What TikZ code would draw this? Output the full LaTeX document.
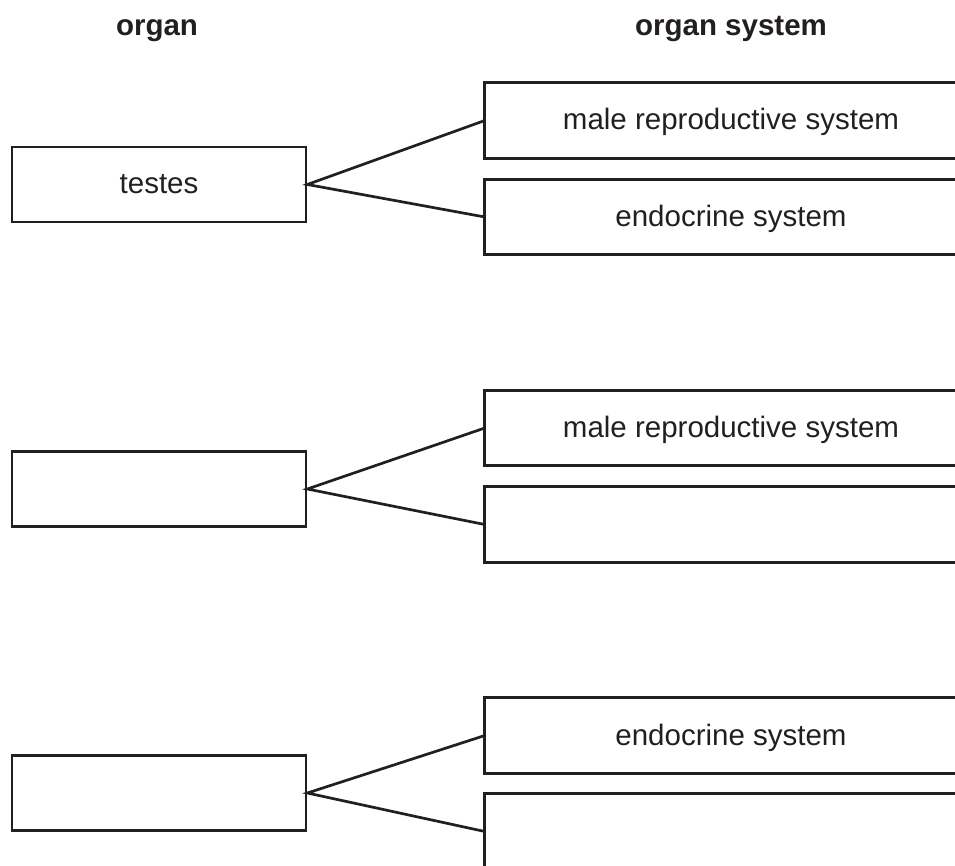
\documentclass[tikz,border=0pt]{standalone}
\usepackage{fontspec}
\setmainfont{Liberation Sans}
\definecolor{ink}{HTML}{231F20}
\begin{document}
\begin{tikzpicture}[x=1pt,y=-1pt,
  lbox/.style={draw=ink,line width=2.7pt,minimum width=294pt,minimum height=75pt,inner sep=0pt,
    text height=19pt,text depth=0pt,font=\fontsize{29.5}{35}\selectfont,text=ink},
  rbox/.style={draw=none,minimum width=470pt,minimum height=75pt,inner sep=0pt,
    text height=19pt,text depth=0pt,font=\fontsize{29.5}{35}\selectfont,text=ink},
  edge/.style={draw=ink,line width=2.7pt},
  open/.style={draw=ink,line width=2.7pt,line cap=rect},
  head/.style={anchor=base,inner sep=0pt,font=\fontsize{29.5}{35}\selectfont\bfseries,text=ink}]
\useasboundingbox (0,0) rectangle (955,866);
% headers
\node[head] (h1) at (157,36) {organ};
\node[head] (h2) at (731,36) {organ system};
% left boxes
\node[lbox] (L1) at (159,184.5) {testes};
\node[lbox] (L2) at (159,489) {};
\node[lbox] (L3) at (159,793) {};
% right boxes (open on the right)
\node[rbox] (A) at (720,120.5) {\hspace*{22pt}male reproductive system};
\node[rbox] (B) at (720,217) {\hspace*{22pt}endocrine system};
\node[rbox] (C) at (720,428) {\hspace*{22pt}male reproductive system};
\node[rbox] (D) at (720,524.5) {};
\node[rbox] (E) at (720,735.5) {\hspace*{22pt}endocrine system};
\node[rbox] (F) at (720,831.5) {};
\foreach \n in {A,B,C,D,E}{
  \draw[open] (\n.north east) -- (\n.north west) -- (\n.south west) -- (\n.south east);
}
\draw[open] (F.north east) -- (F.north west) -- (F.south west);
% connectors
\foreach \l/\a/\b in {L1/A/B,L2/C/D,L3/E/F}{
  \draw[edge] (\a.west) -- (\l.east) -- (\b.west);
}
\end{tikzpicture}
\end{document}
